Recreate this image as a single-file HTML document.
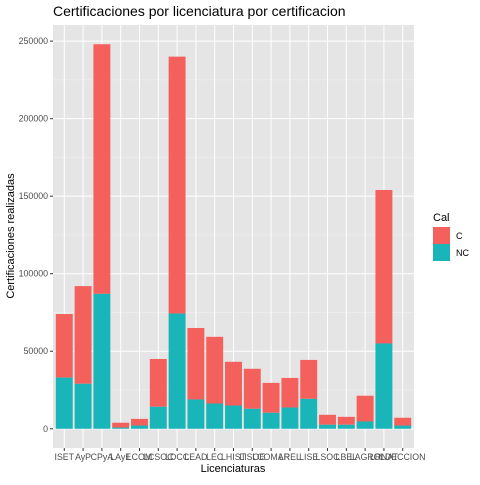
<!DOCTYPE html>
<html><head><meta charset="utf-8"><style>
body{margin:0;background:#fff;font-family:"Liberation Sans",Arial,sans-serif}
</style></head><body>
<svg id="c" width="480" height="480" xmlns="http://www.w3.org/2000/svg" font-family="Liberation Sans, Arial, sans-serif">
<rect width="480" height="480" fill="#fff"/>
<text x="53" y="16" font-size="14" fill="#000">Certificaciones por licenciatura por certificacion</text>
<rect x="53" y="25" width="361" height="423" fill="#e5e5e5"/>
<g id="grid"></g><g id="bars"></g><g id="axes"></g>
<text x="233" y="472" font-size="11" text-anchor="middle" fill="#000">Licenciaturas</text>
<text transform="translate(14,236) rotate(-90)" font-size="11" text-anchor="middle" fill="#000">Certificaciones realizadas</text>
<g>
<text x="433" y="221" font-size="11" fill="#000">Cal</text>
<rect x="433" y="227" width="17" height="17" fill="#f4605c"/>
<text x="456" y="239" font-size="9" fill="#000">C</text>
<rect x="433" y="244" width="17" height="17" fill="#19b5b8"/>
<text x="456" y="256" font-size="9" fill="#000">NC</text>
</g>
</svg>
<script>
const categories=["ISET","AyP","CPyA","LAyE","LCOM","LCSOC","LDCC","LEAD","LEC","LHIST","LISOE","LCOMAR","LREL","LISE","LSOC","LBEL","LAGRO","LRNAT","LDECCION"];
const totalC_NC=[74000,92000,248000,3900,6400,45000,240000,65000,59300,43200,38700,29600,32800,44400,9000,7700,21300,154000,7100];
const ncValues=[33000,29000,87000,800,2100,14200,74300,18900,16300,15000,12900,10300,13700,19300,2600,2600,4700,55000,2100];
const yTicks=[0,50000,100000,150000,200000,250000];
const NS="http://www.w3.org/2000/svg";
const L=53,W=361,T=25,B=448;
const step=W/(categories.length+0.2);
const xc=i=>L+(i+0.6)*step;
const ymax=Math.max(...totalC_NC)*1.05, ymin=-Math.max(...totalC_NC)*0.05;
const y=v=>B-(v-ymin)/(ymax-ymin)*(B-T);
function mk(tag,attrs,parent){const e=document.createElementNS(NS,tag);for(const k in attrs)e.setAttribute(k,attrs[k]);parent.appendChild(e);return e;}
const grid=document.getElementById('grid'),bars=document.getElementById('bars'),axes=document.getElementById('axes');
for(let k=0;k<yTicks.length-1;k++){const v=(yTicks[k]+yTicks[k+1])/2;const g=mk('line',{x1:L,x2:L+W,y1:y(v),y2:y(v),stroke:'#f2f2f2','stroke-width':0.5},grid);

}
yTicks.forEach(v=>{const g=mk('line',{x1:L,x2:L+W,y1:y(v),y2:y(v),stroke:'#fff','stroke-width':1},grid);


const t=mk('line',{x1:L-3,x2:L,y1:y(v),y2:y(v),stroke:'#333','stroke-width':1},axes);


const tx=mk('text',{x:L-5,y:y(v)+3,'font-size':8.8,'text-anchor':'end',fill:'#4d4d4d'},axes);tx.textContent=String(v);

});
const bw=step*0.9;
categories.forEach((c,i)=>{const x=xc(i);
const g=mk('line',{x1:x,x2:x,y1:T,y2:B,stroke:'#fff','stroke-width':1},grid);


const r1=mk('rect',{x:x-bw/2,y:y(totalC_NC[i]),width:bw,height:y(ncValues[i])-y(totalC_NC[i]),fill:'#f4605c'},bars);


const r2=mk('rect',{x:x-bw/2,y:y(ncValues[i]),width:bw,height:y(0)-y(ncValues[i]),fill:'#19b5b8'},bars);


const t=mk('line',{x1:x,x2:x,y1:B,y2:B+3,stroke:'#333','stroke-width':1},axes);


const tx=mk('text',{x:x,y:B+12,'font-size':8.8,'text-anchor':'middle',fill:'#4d4d4d'},axes);tx.textContent=c;

});
</script>
</body></html>
